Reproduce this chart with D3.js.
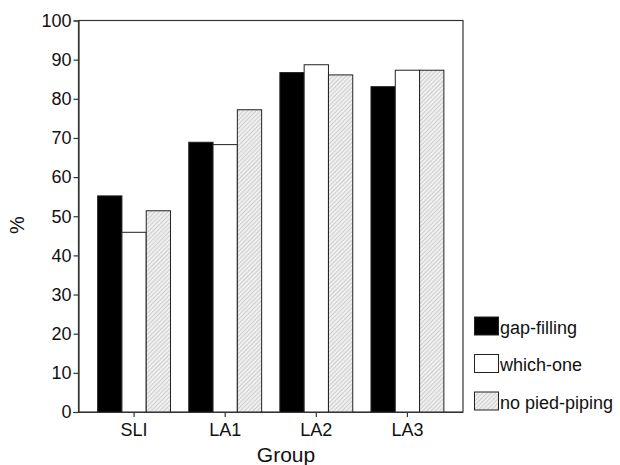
<!DOCTYPE html>
<html>
<head>
<meta charset="utf-8">
<script src="https://cdn.jsdelivr.net/npm/d3@7"></script>
<style>
    body { margin: 0; background: #fff; }
    text { font-family: "Liberation Sans", Arial, sans-serif; fill: #111; }
</style>
</head>
<body>
<div id="chart"></div>
<script>
// Grouped bar chart: % correct by group

const groups = ["SLI", "LA1", "LA2", "LA3"];
const seriesNames = ["gap-filling", "which-one", "no pied-piping"];
const gapFilling = [55.2, 68.9, 86.7, 83.1];
const whichOne = [45.9, 68.3, 88.7, 87.3];
const noPiedPiping = [51.4, 77.2, 86.1, 87.3];
const yTicks = [0, 10, 20, 30, 40, 50, 60, 70, 80, 90, 100];

const width = 620;
const height = 465;
const margin = { top: 20.5, right: 157, bottom: 53, left: 78.5 };
const innerWidth = width - margin.left - margin.right;
const innerHeight = height - margin.top - margin.bottom;

const seriesValues = [gapFilling, whichOne, noPiedPiping];
const fills = ["#000", "#fff", "url(#hatch)"];

const svg = d3.select("#chart").append("svg")
    .attr("width", width)
    .attr("height", height);

const defs = svg.append("defs");
const hatch = defs.append("pattern")
    .attr("id", "hatch")
    .attr("patternUnits", "userSpaceOnUse")
    .attr("width", 3)
    .attr("height", 3)
    .attr("patternTransform", "rotate(45)");
hatch.append("rect")
    .attr("width", 3)
    .attr("height", 3)
    .attr("fill", "#efefef");
hatch.append("line")
    .attr("x1", 0).attr("y1", 0)
    .attr("x2", 0).attr("y2", 3)
    .attr("stroke", "#a8a8a8")
    .attr("stroke-width", 0.9);

const root = svg.append("g")
    .attr("transform", `translate(${margin.left},${margin.top})`);

const x = d3.scaleBand()
    .domain(groups)
    .range([0, innerWidth])
    .paddingInner(0.2)
    .paddingOuter(0.21);

const xSeries = d3.scaleBand()
    .domain(d3.range(seriesNames.length))
    .range([0, x.bandwidth()]);

const y = d3.scaleLinear()
    .domain([0, 100])
    .range([innerHeight, 0]);

// plot frame
root.append("rect")
    .attr("width", innerWidth)
    .attr("height", innerHeight)
    .attr("fill", "none")
    .attr("stroke", "#333")
    .attr("stroke-width", 1.2);

// bars
const barData = groups.flatMap((g, gi) =>
    seriesValues.map((vals, si) => ({ group: g, series: si, value: vals[gi] })));

root.append("g").selectAll("rect")
    .data(barData)
    .join("rect")
    .attr("x", d => x(d.group) + xSeries(d.series))
    .attr("y", d => y(d.value))
    .attr("width", xSeries.bandwidth())
    .attr("height", d => innerHeight - y(d.value))
    .attr("fill", d => fills[d.series])
    .attr("stroke", "#222")
    .attr("stroke-width", 1);

// axes
const yAxis = root.append("g")
    .call(d3.axisLeft(y).tickValues(yTicks).tickSize(5).tickPadding(2));
const xAxis = root.append("g")
    .attr("transform", `translate(0,${innerHeight})`)
    .call(d3.axisBottom(x).tickSize(5).tickPadding(6));

[yAxis, xAxis].forEach(ax => {
    ax.select(".domain").attr("stroke", "#333").attr("stroke-width", 1.2);
    ax.selectAll(".tick line").attr("stroke", "#333").attr("stroke-width", 1.2);
    ax.selectAll("text")
        .attr("font-family", "'Liberation Sans', Arial, sans-serif")
        .attr("font-size", 18)
        .attr("fill", "#111");
});
xAxis.select(".domain").attr("d", `M-5,0.5H${innerWidth}`);

// axis titles
svg.append("text")
    .attr("x", 286)
    .attr("y", 462)
    .attr("text-anchor", "middle")
    .attr("font-size", 21)
    .text("Group");

svg.append("text")
    .attr("transform", "translate(24, 225) rotate(-90)")
    .attr("text-anchor", "middle")
    .attr("font-size", 20)
    .text("%");

// legend
const legend = svg.append("g")
    .attr("transform", "translate(474.5, 317)");
const legendItem = legend.selectAll("g")
    .data(seriesNames)
    .join("g")
    .attr("transform", (d, i) => `translate(0, ${i * 37.5})`);
legendItem.append("rect")
    .attr("width", 24)
    .attr("height", 18)
    .attr("fill", (d, i) => fills[i])
    .attr("stroke", "#222")
    .attr("stroke-width", 1);
legendItem.append("text")
    .attr("x", 25.5)
    .attr("y", 16.5)
    .attr("font-size", 18)
    .text(d => d);
</script>
</body>
</html>
